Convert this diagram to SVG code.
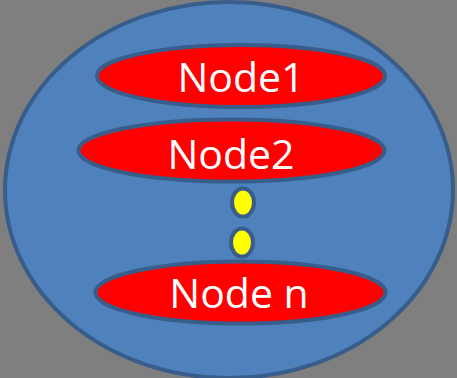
<svg xmlns="http://www.w3.org/2000/svg" width="457" height="378" viewBox="0 0 457 378">
  <style>
    .cluster { fill: #4f81bd; stroke: #385d8a; stroke-width: 4; }
    .node { fill: #ff0000; stroke: #385d8a; stroke-width: 4; }
    .dot { fill: #ffff00; stroke: #385d8a; stroke-width: 4; }
    .label { fill: #ffffff; font-family: "Open Sans", "Noto Sans", sans-serif; font-size: 41px; text-anchor: middle; }
  </style>
  <rect width="457" height="378" fill="#7f7f7f"/>
  <g id="cluster">
    <ellipse class="cluster" cx="229" cy="190" rx="224" ry="188"/>
  </g>
  <g id="connectors"></g>
  <g id="node1">
    <ellipse class="node" cx="241" cy="76" rx="144" ry="31"/>
    <text class="label" x="241" y="92">Node1</text>
  </g>
  <g id="node2">
    <ellipse class="node" cx="231.5" cy="150.5" rx="153" ry="31"/>
    <text class="label" x="231" y="169">Node2</text>
  </g>
  <g id="ellipsis1">
    <ellipse class="dot" cx="243" cy="202.5" rx="11" ry="14"/>
  </g>
  <g id="ellipsis2">
    <ellipse class="dot" cx="242" cy="242.5" rx="11" ry="14"/>
  </g>
  <g id="noden">
    <ellipse class="node" cx="240.5" cy="292.5" rx="145" ry="31"/>
    <text class="label" x="239" y="308">Node n</text>
  </g>
</svg>
